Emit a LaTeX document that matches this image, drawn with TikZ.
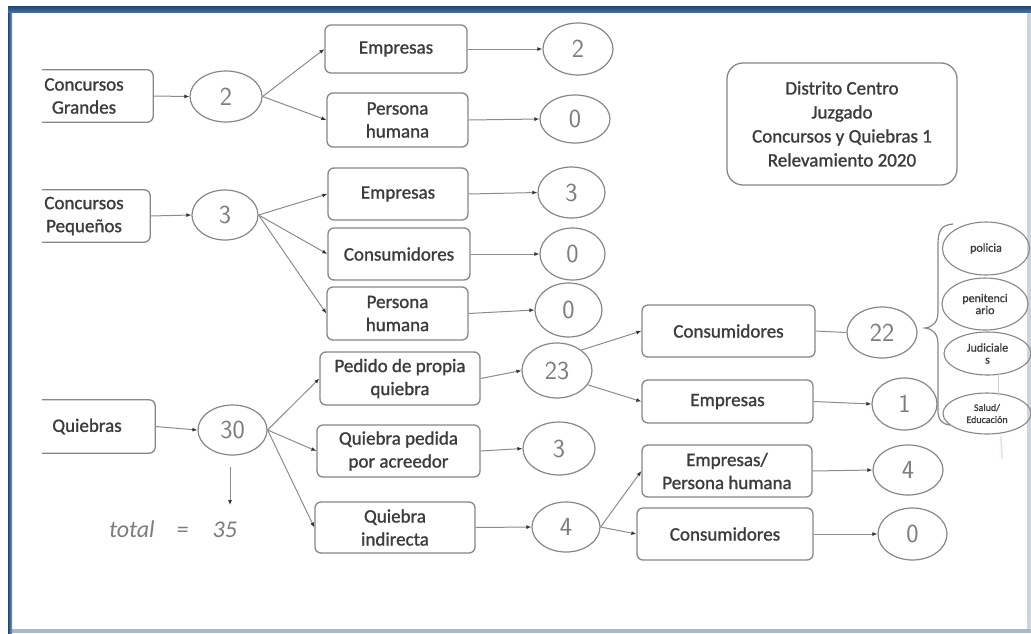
\documentclass[tikz,border=0pt]{standalone}
\usepackage{fontspec}
\setmainfont{Carlito}
\newfontfamily\boxfont{Carlito}[FakeBold=1.2]
\usetikzlibrary{shapes.geometric,arrows.meta}
\definecolor{inkbox}{RGB}{135,135,135}
\definecolor{inkline}{RGB}{140,140,140}
\definecolor{inktext}{RGB}{60,60,60}
\definecolor{inkhand}{RGB}{125,125,125}
\definecolor{frametop}{RGB}{28,70,115}
\definecolor{framemid}{RGB}{70,110,155}
\definecolor{framelow}{RGB}{170,185,200}
\tikzset{
  boxline/.style={draw=inkbox, line width=1.3pt},
  stepbox/.style={boxline, rounded corners=6pt, align=center, text=inktext,
    font=\boxfont\fontsize{19}{23}\selectfont, inner sep=0pt},
  openbox/.style={inner sep=0pt},
  lbl/.style={align=center, text=inktext, font=\boxfont\fontsize{19}{23}\selectfont, inner sep=0pt},
  count/.style={ellipse, draw=inkbox, line width=1.2pt, inner sep=0pt, text=inkhand,
    font=\sffamily\fontsize{26}{26}\selectfont},
  tag/.style={ellipse, draw=inkbox, line width=1.1pt, inner sep=0pt, align=center,
    text=inktext, font=\boxfont\fontsize{12}{12}\selectfont},
  arr/.style={draw=inkline, line width=1pt, -{Latex[length=5pt,width=4pt,color=black!80]}},
  link/.style={draw=inkline, line width=1pt},
}
\begin{document}
\begin{tikzpicture}[x=1pt,y=-1pt]
\useasboundingbox (0,0) rectangle (1031,633);
\fill[white] (0,0) rectangle (1031,633);

% window frame
\fill[framelow!60] (1027,10) rectangle (1031,633);
\fill[framelow] (8,629) rectangle (1031,633);
\fill[left color=frametop, right color=framemid!70] (8,7) rectangle (12,633);
\fill[top color=frametop, bottom color=framemid] (8,6) rectangle (1031,12);

% title
\node[stepbox, rounded corners=16pt, minimum width=230, minimum height=122,
  font=\boxfont\fontsize{19}{24}\selectfont] (title) at (842,124)
  {Distrito Centro\\Juzgado\\Concursos y Quiebras 1\\Relevamiento 2020};

% left column: boxes open on their left side
\node[openbox, minimum width=111, minimum height=52] (cg) at (97.5,96) {};
\node[lbl] (cgt) at (84,96) {Concursos\\Grandes};
\node[openbox, minimum width=108, minimum height=52] (cp) at (96,216) {};
\node[lbl] (cpt) at (84,216) {Concursos\\Pequeños};
\node[openbox, minimum width=113, minimum height=53] (qb) at (98.5,426.5) {};
\node[lbl] (qbt) at (87,426.5) {Quiebras};
\foreach \b in {cg,cp,qb}
  \draw[boxline, rounded corners=6pt] (\b.north west) -- (\b.north east)
    -- (\b.south east) -- (\b.south west);

% first-level counts
\node[count, minimum width=72, minimum height=51] (e2a) at (226,96.5) {2};
\node[count, minimum width=66, minimum height=50] (e3a) at (225,215) {3};
\node[count, minimum width=69, minimum height=50] (e30) at (232.5,430) {30};

% second column
\node[stepbox, minimum width=142, minimum height=48] (emp1) at (396,49) {Empresas};
\node[stepbox, minimum width=141, minimum height=54] (ph1) at (397.5,120) {Persona\\humana};
\node[stepbox, minimum width=140, minimum height=52] (emp2) at (398,194) {Empresas};
\node[stepbox, minimum width=142, minimum height=52] (cons2) at (399,254) {Consumidores};
\node[stepbox, minimum width=141, minimum height=53] (ph2) at (397.5,313.5) {Persona\\humana};
\node[stepbox, minimum width=160, minimum height=53] (ped) at (400,378.5) {Pedido de propia\\quiebra};
\node[stepbox, minimum width=163, minimum height=52] (qpa) at (398.5,451) {Quiebra pedida\\por acreedor};
\node[stepbox, minimum width=160, minimum height=51] (qi) at (395,527.5) {Quiebra\\indirecta};

% second-level counts
\node[count, minimum width=70, minimum height=52] (r2) at (578,49) {2};
\node[count, minimum width=70, minimum height=48] (r0a) at (575,119) {0};
\node[count, minimum width=67, minimum height=51] (r3) at (571.5,192.5) {3};
\node[count, minimum width=65, minimum height=52] (r0b) at (572.5,254) {0};
\node[count, minimum width=67, minimum height=54] (r0c) at (568.5,310) {0};
\node[count, minimum width=70, minimum height=55] (e23) at (557,370.5) {23};
\node[count, minimum width=72, minimum height=53] (r3b) at (559,448.5) {3};
\node[count, minimum width=68, minimum height=50] (e4) at (566,527) {4};

% third column
\node[stepbox, minimum width=173, minimum height=52] (consR) at (728.5,331) {Consumidores};
\node[stepbox, minimum width=171, minimum height=43] (empR) at (727.5,401.5) {Empresas};
\node[stepbox, minimum width=170, minimum height=52] (eph) at (727,471) {Empresas/\\Persona humana};
\node[stepbox, minimum width=176, minimum height=52] (consB) at (725,534) {Consumidores};

\node[count, minimum width=70, minimum height=51] (r22) at (882,332.5) {22};
\node[count, minimum width=65, minimum height=52] (r1) at (904.5,404) {1};
\node[count, minimum width=70, minimum height=50] (r4) at (908,470) {4};
\node[count, minimum width=69, minimum height=52] (r0d) at (912.5,534) {0};

% breakdown of the 22
\node[tag, minimum width=87, minimum height=53] (t1) at (986,248.5) {policia};
\node[tag, minimum width=86, minimum height=52] (t2) at (985,304) {penitenci\\ario};
\node[tag, minimum width=87, minimum height=43] (t3) at (987.5,353.5) {Judiciale\\s};
\node[tag, minimum width=88, minimum height=41, font=\boxfont\fontsize{10}{12}\selectfont]
  (t4) at (987,413.5) {Salud/\\Educación};
\draw[inkbox, line width=1.2pt] (953,224) .. controls (941,225) and (938,231) .. (938,244)
  -- (938,312) .. controls (938,322) and (933,327) .. (925,328)
  .. controls (933,329) and (938,334) .. (938,344)
  -- (938,410) .. controls (938,419) and (941,424) .. (950,425);
\draw[inkbox!40, line width=0.8pt] (998,373) -- (998,396);
\draw[violet!15, line width=1.5pt, line cap=round] (1001,437) -- (1002,458);

% total
\node[text=inkhand, font=\itshape\fontsize{24}{24}\selectfont, inner sep=0pt] (tot) at (173,529)
  {total\hspace{22pt}=\hspace{24pt}35};
\coordinate (ts) at (230,467);
\coordinate (te) at (230,505);
\draw[arr] (ts) -- (te);

% connectors
\draw[arr] (cg.east) -- (e2a.west);
\draw[arr] (cp.east) -- (e3a.west);
\draw[arr] (qb.east) -- (e30.west);

\draw[arr] (e2a.east) -- (emp1.west);
\draw[arr] (e2a.east) -- (ph1.west);
\draw[arr] (e3a.east) -- (emp2.west);
\draw[arr] (e3a.east) -- (cons2.west);
\draw[arr] (e3a.east) -- (ph2.west);
\draw[arr] (e30.east) -- (ped.west);
\draw[arr] (e30.east) -- (qpa.west);
\draw[arr] (e30.east) -- (qi.west);

\draw[arr] (emp1.east) -- (r2.west);
\draw[arr] (ph1.east) -- (r0a.west);
\draw[arr] (emp2.east) -- (r3.west);
\draw[arr] (cons2.east) -- (r0b.west);
\draw[arr] (ph2.east) -- (r0c.west);
\draw[arr] (ped.east) -- (e23.west);
\draw[arr] (qpa.east) -- (r3b.west);
\draw[arr] (qi.east) -- (e4.west);

\draw[arr] (e23.40) -- (consR.west);
\draw[arr] (e23.-25) -- (empR.west);
\draw[arr] (e4.east) -- (eph.west);
\draw[arr] (e4.east) -- (consB.west);

\draw[link] (consR.east) -- (r22.west);
\draw[arr] (empR.east) -- (r1.west);
\draw[arr] (eph.east) -- (r4.west);
\draw[arr] (consB.east) -- (r0d.west);
\end{tikzpicture}
\end{document}
